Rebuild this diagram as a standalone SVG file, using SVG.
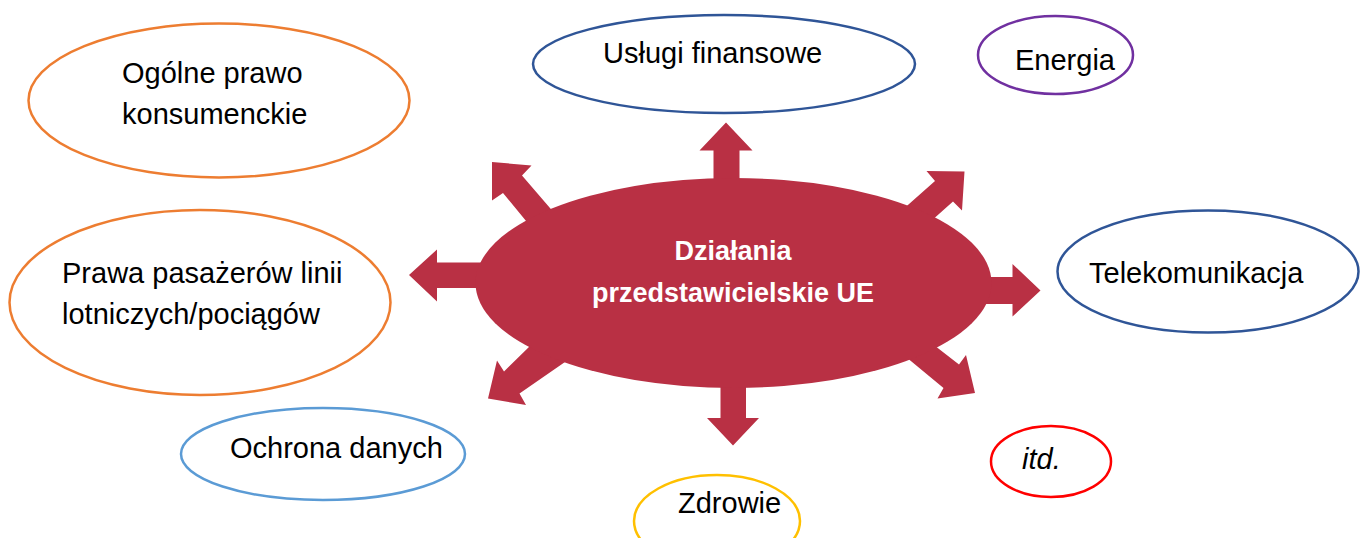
<svg xmlns="http://www.w3.org/2000/svg" width="1360" height="538" viewBox="0 0 1360 538">
<style>
.bg{fill:#ffffff}
.node{fill:#ffffff;stroke-width:2.5}
.lbl{font-family:"Liberation Sans",Arial,sans-serif;font-size:29px;fill:#000000}
.arrow{fill:#B93044}
.hub{fill:#B93044}
.hubtxt{font-family:"Liberation Sans",Arial,sans-serif;font-size:27px;font-weight:bold;fill:#ffffff;text-anchor:middle}
</style>
<rect class="bg" x="0" y="0" width="1360" height="538"/>
<g id="connectors">
<polygon class="arrow" points="726,122.5 752.5,150.5 739.5,150.5 739.5,205 713.5,205 713.5,150.5 699.5,150.5"/>
<polygon class="arrow" points="733,445.5 759,418 746,418 746,375 720.5,375 720.5,418 707,418"/>
<polygon class="arrow" points="409,275 437,249.5 437,262.5 495,262.5 495,288 437,288 437,301.5"/>
<polygon class="arrow" points="1040.5,290.5 1012.5,264 1012.5,277 975,277 975,304 1012.5,304 1012.5,316.5"/>
<polygon class="arrow" points="492,162 531.5,165.5 522,175.5 556,215 531,227 503,193 492,200.5"/>
<polygon class="arrow" points="964.5,171.5 926.5,171 935,181 900,212 930,222 953,201.5 962,210.5"/>
<polygon class="arrow" points="488,398.5 526,405 519.5,393.5 565,362 531,345 504,371.5 497,360.5"/>
<polygon class="arrow" points="975,393 937.5,398.5 943.5,388 900,352 930,342 959,364.5 966,355"/>
</g>
<g id="hub">
<ellipse class="hub" cx="733.5" cy="283" rx="258" ry="105"/>
<text class="hubtxt" x="733" y="260">Działania</text>
<text class="hubtxt" x="733" y="302">przedstawicielskie UE</text>
</g>
<g id="node-ogolne">
<ellipse class="node" cx="219" cy="100.5" rx="190.5" ry="77" stroke="#ED7D31"/>
<text class="lbl" x="122" y="83">Ogólne prawo</text>
<text class="lbl" x="122" y="124">konsumenckie</text>
</g>
<g id="node-pasazerowie">
<ellipse class="node" cx="200" cy="302.5" rx="190.5" ry="92.5" stroke="#ED7D31"/>
<text class="lbl" x="62" y="283">Prawa pasażerów linii</text>
<text class="lbl" x="62" y="324">lotniczych/pociągów</text>
</g>
<g id="node-ochrona">
<ellipse class="node" cx="323" cy="454" rx="142" ry="46" stroke="#5B9BD5"/>
<text class="lbl" x="230" y="458">Ochrona danych</text>
</g>
<g id="node-uslugi">
<ellipse class="node" cx="724" cy="64" rx="191" ry="49" stroke="#2F5597"/>
<text class="lbl" x="603" y="63">Usługi finansowe</text>
</g>
<g id="node-energia">
<ellipse class="node" cx="1055.5" cy="55" rx="77.5" ry="39" stroke="#7030A0"/>
<text class="lbl" x="1015" y="70">Energia</text>
</g>
<g id="node-telekom">
<ellipse class="node" cx="1208" cy="271.5" rx="150.5" ry="61" stroke="#2F5597"/>
<text class="lbl" x="1089" y="283">Telekomunikacja</text>
</g>
<g id="node-itd">
<ellipse class="node" cx="1051" cy="461.5" rx="60" ry="35.5" stroke="#FF0000"/>
<text class="lbl" x="1022" y="469" font-style="italic">itd.</text>
</g>
<g id="node-zdrowie">
<ellipse class="node" cx="717" cy="521" rx="83" ry="46" stroke="#FFC000"/>
<text class="lbl" x="678" y="513">Zdrowie</text>
</g>
</svg>
